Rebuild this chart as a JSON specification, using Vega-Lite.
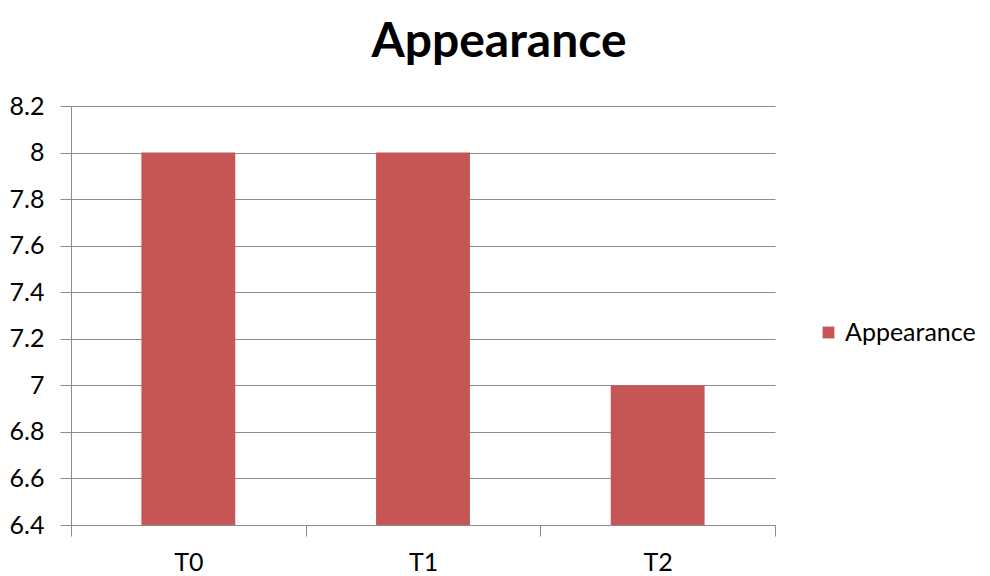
{
  "$schema": "https://vega.github.io/schema/vega-lite/v6.json",
  "width": 704,
  "height": 419,
  "autosize": {"type": "none"},
  "padding": {"left": 71, "top": 106, "right": 215, "bottom": 51},
  "background": "white",
  "title": {
    "text": "Appearance",
    "font": "Lato",
    "fontSize": 48,
    "fontWeight": "bold",
    "color": "#000000",
    "anchor": "middle",
    "dx": 76,
    "offset": 27
  },
  "data": {
    "values": [
      {"treatment": "T0", "value": 8, "series": "Appearance"},
      {"treatment": "T1", "value": 8, "series": "Appearance"},
      {"treatment": "T2", "value": 7, "series": "Appearance"}
    ]
  },
  "mark": {"type": "bar", "color": "#C65656", "clip": true, "width": {"band": 0.4}},
  "encoding": {
    "x": {
      "field": "treatment",
      "type": "nominal",
      "scale": {"paddingInner": 0, "paddingOuter": 0},
      "axis": {
        "title": null,
        "labelAngle": 0,
        "labelFont": "Lato",
        "labelFontSize": 25,
        "labelColor": "#000000",
        "labelPadding": 14,
        "tickBand": "extent",
        "tickSize": 11,
        "tickColor": "#8c8c8c",
        "domainColor": "#8c8c8c",
        "grid": false,
        "zindex": 1
      }
    },
    "y": {
      "field": "value",
      "type": "quantitative",
      "scale": {"domain": [6.4, 8.2], "zero": false, "nice": false},
      "axis": {
        "title": null,
        "values": [6.4, 6.6, 6.8, 7, 7.2, 7.4, 7.6, 7.8, 8, 8.2],
        "format": "~g",
        "labelFont": "Lato",
        "labelFontSize": 25,
        "labelColor": "#000000",
        "labelPadding": 16,
        "tickSize": 11,
        "tickColor": "#8c8c8c",
        "domainColor": "#8c8c8c",
        "gridColor": "#8c8c8c",
        "gridOpacity": 1
      }
    },
    "color": {
      "field": "series",
      "type": "nominal",
      "scale": {"range": ["#C65656"]},
      "legend": {
        "title": null,
        "orient": "none",
        "legendX": 745,
        "legendY": 214,
        "symbolType": "square",
        "symbolSize": 140,
        "symbolStrokeWidth": 0,
        "labelFont": "Lato",
        "labelFontSize": 25,
        "labelColor": "#000000",
        "labelOffset": 4
      }
    }
  },
  "config": {"view": {"stroke": null}}
}
